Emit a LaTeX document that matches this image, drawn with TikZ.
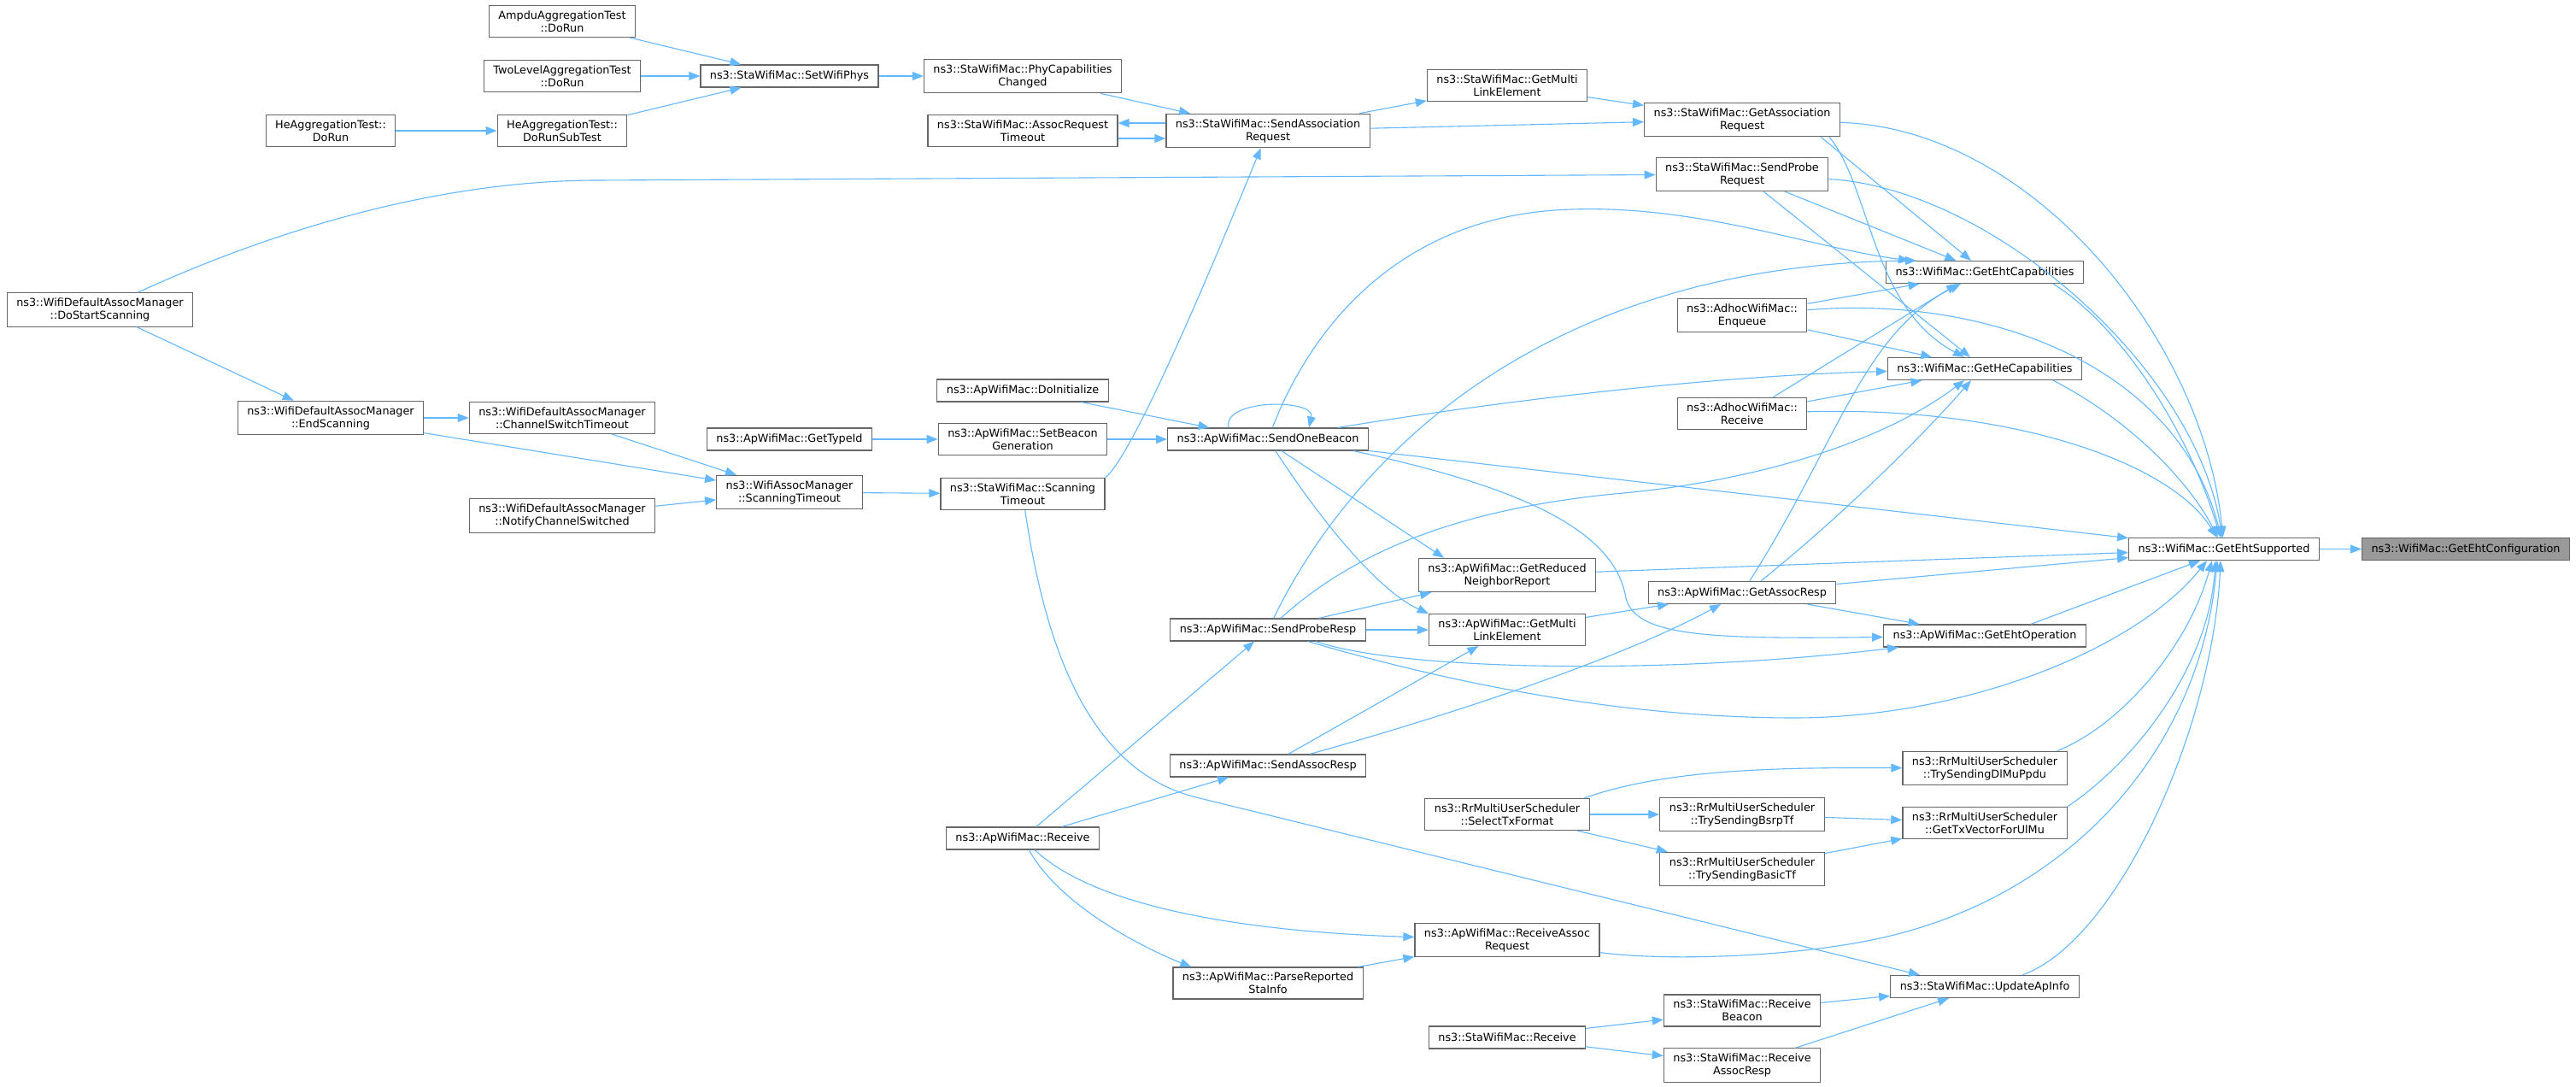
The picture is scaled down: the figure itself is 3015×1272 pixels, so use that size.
\documentclass[tikz,border=0pt]{standalone}
\usepackage{fontspec}
\setmainfont{DejaVu Sans}
\usetikzlibrary{arrows.meta}
\definecolor{edgeblue}{HTML}{63B8FF}
\definecolor{boxline}{HTML}{666666}
\definecolor{hifill}{HTML}{999999}
\tikzset{
  fn/.style={draw=boxline, fill=white, line width=0.6pt, font=\fontsize{6.4}{7.5}\selectfont,
    align=center, inner xsep=5.5pt, inner ysep=3pt, minimum height=13pt},
  fnhi/.style={fn, fill=hifill},
  call/.style={draw=edgeblue, line width=0.55pt, -{Triangle[length=6.5pt,width=5pt]}},
}
\begin{document}
\begin{tikzpicture}[x=0.5pt, y=-0.5pt]
        \path[use as bounding box, fill=white] (0,0) rectangle (3015,1272);

        % Test callers
        \node[fn] (ampdu) at (658,25) {AmpduAggregationTest\\::DoRun};
        \node[fn] (twolevel) at (658,89) {TwoLevelAggregationTest\\::DoRun};
        \node[fn] (hedorun) at (387,153) {HeAggregationTest::\\DoRun};
        \node[fn] (hesubtest) at (658,153) {HeAggregationTest::\\DoRunSubTest};

        % Station association
        \node[fn] (setphys) at (924,89) {ns3::StaWifiMac::SetWifiPhys};
        \node[fn] (phycap) at (1197,89) {ns3::StaWifiMac::PhyCapabilities\\Changed};
        \node[fn] (reqtimeout) at (1197,153) {ns3::StaWifiMac::AssocRequest\\Timeout};
        \node[fn] (sendassocreq) at (1484,153) {ns3::StaWifiMac::SendAssociation\\Request};
        \node[fn] (stamle) at (1764,100) {ns3::StaWifiMac::GetMulti\\LinkElement};
        \node[fn] (getassocreq) at (2039,140) {ns3::StaWifiMac::GetAssociation\\Request};
        \node[fn] (sendprobereq) at (2039,204) {ns3::StaWifiMac::SendProbe\\Request};

        % Scanning
        \node[fn] (startscan) at (117,362.5) {ns3::WifiDefaultAssocManager\\::DoStartScanning};
        \node[fn] (endscan) at (387,489) {ns3::WifiDefaultAssocManager\\::EndScanning};
        \node[fn] (chswitch) at (658,489) {ns3::WifiDefaultAssocManager\\::ChannelSwitchTimeout};
        \node[fn] (notifysw) at (658,603.5) {ns3::WifiDefaultAssocManager\\::NotifyChannelSwitched};
        \node[fn] (scantimeout) at (924,576) {ns3::WifiAssocManager\\::ScanningTimeout};
        \node[fn] (stascan) at (1197,578) {ns3::StaWifiMac::Scanning\\Timeout};

        % Access point
        \node[fn] (typeid) at (924,514) {ns3::ApWifiMac::GetTypeId};
        \node[fn] (doinit) at (1197,457) {ns3::ApWifiMac::DoInitialize};
        \node[fn] (beacongen) at (1197,514) {ns3::ApWifiMac::SetBeacon\\Generation};
        \node[fn] (onebeacon) at (1484,514) {ns3::ApWifiMac::SendOneBeacon};
        \node[fn] (proberesp) at (1484,737) {ns3::ApWifiMac::SendProbeResp};
        \node[fn] (sendassocresp) at (1484,896) {ns3::ApWifiMac::SendAssocResp};
        \node[fn] (aprx) at (1197,981) {ns3::ApWifiMac::Receive};
        \node[fn] (parsesta) at (1484,1150.5) {ns3::ApWifiMac::ParseReported\\StaInfo};
        \node[fn] (rnr) at (1764,673) {ns3::ApWifiMac::GetReduced\\NeighborReport};
        \node[fn] (apmle) at (1764,737) {ns3::ApWifiMac::GetMulti\\LinkElement};
        \node[fn] (rxassocreq) at (1764,1100) {ns3::ApWifiMac::ReceiveAssoc\\Request};
        \node[fn] (assocresp) at (2039,693.5) {ns3::ApWifiMac::GetAssocResp};
        \node[fn] (ehtop) at (2323,744) {ns3::ApWifiMac::GetEhtOperation};

        % Adhoc
        \node[fn] (enqueue) at (2039,369) {ns3::AdhocWifiMac::\\Enqueue};
        \node[fn] (adhocrx) at (2039,484) {ns3::AdhocWifiMac::\\Receive};

        % Capabilities
        \node[fn] (ehtcap) at (2323,318.5) {ns3::WifiMac::GetEhtCapabilities};
        \node[fn] (hecap) at (2323,431.5) {ns3::WifiMac::GetHeCapabilities};

        % Schedulers
        \node[fn] (selecttx) at (1764,953) {ns3::RrMultiUserScheduler\\::SelectTxFormat};
        \node[fn] (bsrp) at (2039,953) {ns3::RrMultiUserScheduler\\::TrySendingBsrpTf};
        \node[fn] (basictf) at (2039,1017) {ns3::RrMultiUserScheduler\\::TrySendingBasicTf};
        \node[fn] (dlmu) at (2323,899) {ns3::RrMultiUserScheduler\\::TrySendingDlMuPpdu};
        \node[fn] (ulmu) at (2323,963) {ns3::RrMultiUserScheduler\\::GetTxVectorForUlMu};

        % Station receive
        \node[fn] (starx) at (1764,1214) {ns3::StaWifiMac::Receive};
        \node[fn] (rxbeacon) at (2039,1182.5) {ns3::StaWifiMac::Receive\\Beacon};
        \node[fn] (rxassocresp) at (2039,1246.5) {ns3::StaWifiMac::Receive\\AssocResp};
        \node[fn] (updateap) at (2323,1154.5) {ns3::StaWifiMac::UpdateApInfo};

        % Target
        \node[fn] (ehtsup) at (2603,642.5) {ns3::WifiMac::GetEhtSupported};
        \node[fnhi] (ehtconf) at (2886,642.5) {ns3::WifiMac::GetEhtConfiguration};

        % Test callers
        \draw[call] (ampdu) -- (setphys);
        \draw[call] (twolevel) -- (setphys);
        \draw[call] (hesubtest) -- (setphys);
        \draw[call] (hedorun) -- (hesubtest);

        % Station association
        \draw[call] (setphys) -- (phycap);
        \draw[call] (phycap) -- (sendassocreq);
        \draw[call] ([yshift=4.5pt]sendassocreq.west) -- ([yshift=4.5pt]reqtimeout.east);
        \draw[call] ([yshift=-4.5pt]reqtimeout.east) -- ([yshift=-4.5pt]sendassocreq.west);
        \draw[call] (sendassocreq) -- (stamle);
        \draw[call] (sendassocreq) -- (getassocreq);
        \draw[call] (stamle) -- (getassocreq);
        \draw[call] (stascan.north east) .. controls (1330,530) and (1440,260) .. (sendassocreq);

        % Scanning
        \draw[call] (startscan) .. controls (330,265) and (520,211) .. (700,211) -- (sendprobereq);
        \draw[call] (startscan) -- (endscan);
        \draw[call] (endscan) -- (chswitch);
        \draw[call] (endscan) -- (scantimeout);
        \draw[call] (chswitch) -- (scantimeout);
        \draw[call] (notifysw) -- (scantimeout);
        \draw[call] (scantimeout) -- (stascan);
        \draw[call] (stascan) .. controls (1225,770) and (1280,903) .. (1400,933) -- ([xshift=-38pt]updateap.north);

        % Beacons
        \draw[call] (typeid) -- (beacongen);
        \draw[call] (doinit) -- (onebeacon);
        \draw[call] (beacongen) -- (onebeacon);
        \draw[call] ([xshift=-23pt]onebeacon.north) .. controls +(-8,-34) and +(8,-34) .. ([xshift=24pt]onebeacon.north);
        \draw[call] (onebeacon) .. controls (1540,370) and (1650,250) .. (1840,245)
                    .. controls (1990,240) and (2120,290) .. ([xshift=14pt]ehtcap.north west);
        \draw[call] (onebeacon) .. controls (1750,470) and (2000,440) .. (hecap);
        \draw[call] (onebeacon) -- (ehtsup);
        \draw[call] ([xshift=8pt]onebeacon.south) -- ([xshift=-37pt]rnr.north);
        \draw[call] (onebeacon) .. controls (1540,600) and (1610,690) .. (apmle.north west);
        \draw[call] ([xshift=50pt]onebeacon.south) .. controls (1780,570) and (1890,620) .. (1903,700)
                    .. controls (1915,745) and (2000,748) .. (ehtop);

        % Receive and responses
        \draw[call] (aprx) -- (proberesp);
        \draw[call] (aprx) -- (sendassocresp);
        \draw[call] (aprx) .. controls (1280,1060) and (1450,1090) .. (rxassocreq);
        \draw[call] (aprx) .. controls (1240,1060) and (1340,1110) .. ([xshift=11pt]parsesta.north west);
        \draw[call] (parsesta) -- (rxassocreq);
        \draw[call] (proberesp) -- (rnr);
        \draw[call] (proberesp) -- (apmle);
        \draw[call] (proberesp) .. controls (1590,520) and (1820,310) .. ([xshift=18pt]ehtcap.north west);
        \draw[call] (proberesp) .. controls (1580,650) and (1700,595) .. (1900,577)
                    .. controls (2050,563) and (2200,520) .. ([xshift=-12pt]hecap.south);
        \draw[call] ([xshift=28pt]proberesp.south) .. controls (1640,785) and (1950,790) .. ([xshift=9pt]ehtop.south west);
        \draw[call] (proberesp) .. controls (1700,800) and (1900,840) .. (2100,840)
                    .. controls (2300,840) and (2500,760) .. ([xshift=-10pt]ehtsup.south);
        \draw[call] (sendassocresp) -- (apmle);
        \draw[call] (sendassocresp) .. controls (1650,850) and (1880,780) .. (assocresp);
        \draw[call] (apmle) -- (assocresp);
        \draw[call] (rnr) -- (ehtsup);

        % GetAssocResp
        \draw[call] (assocresp) -- (ehtop);
        \draw[call] (assocresp) -- (ehtsup);
        \draw[call] (assocresp) .. controls (2150,520) and (2180,390) .. ([xshift=-14pt]ehtcap.south);
        \draw[call] ([xshift=11pt]assocresp.north) .. controls (2160,600) and (2250,510) .. ([xshift=-8pt]hecap.south);

        % Capabilities
        \draw[call] ([xshift=46pt]getassocreq.south) -- ([xshift=-8pt]ehtcap.north);
        \draw[call] ([xshift=51pt]getassocreq.south) .. controls (2190,220) and (2190,360) .. ([xshift=-12pt]hecap.north);
        \draw[call] (getassocreq) .. controls (2380,150) and (2580,400) .. (ehtsup);
        \draw[call] (sendprobereq) -- (ehtcap);
        \draw[call] (sendprobereq) -- (hecap);
        \draw[call] (sendprobereq) .. controls (2330,220) and (2570,430) .. (ehtsup);
        \draw[call] (enqueue) -- (ehtcap);
        \draw[call] (enqueue) -- (hecap);
        \draw[call] (enqueue) .. controls (2330,345) and (2550,430) .. (ehtsup);
        \draw[call] ([xshift=18pt]adhocrx.north) -- ([xshift=-16pt]ehtcap.south);
        \draw[call] (adhocrx) -- (hecap);
        \draw[call] (adhocrx) .. controls (2350,475) and (2540,540) .. (ehtsup);
        \draw[call] ([xshift=40pt]ehtcap.south) .. controls (2480,380) and (2560,500) .. (ehtsup);
        \draw[call] ([xshift=40pt]hecap.south) .. controls (2490,490) and (2560,560) .. (ehtsup);
        \draw[call] ([xshift=27pt]ehtop.north) -- ([xshift=-14pt]ehtsup.south);

        % Schedulers
        \draw[call] ([xshift=45pt]selecttx.north) .. controls (1950,900) and (2080,898) .. (dlmu);
        \draw[call] (selecttx) -- (bsrp);
        \draw[call] (selecttx) -- (basictf);
        \draw[call] (bsrp) -- (ulmu);
        \draw[call] (basictf) -- (ulmu);
        \draw[call] ([xshift=-6pt]dlmu.north east) .. controls (2480,850) and (2560,760) .. ([xshift=-7pt]ehtsup.south);
        \draw[call] (ulmu.north east) .. controls (2500,890) and (2585,780) .. ([xshift=-5pt]ehtsup.south);

        % Association request and station receive
        \draw[call] (rxassocreq) .. controls (1950,1125) and (2100,1120) .. (2200,1098)
                    .. controls (2420,1050) and (2575,880) .. ([xshift=-4pt]ehtsup.south);
        \draw[call] (starx) -- (rxbeacon);
        \draw[call] (starx) -- (rxassocresp);
        \draw[call] (rxbeacon) -- (updateap);
        \draw[call] (rxassocresp) -- (updateap);
        \draw[call] ([xshift=22pt]updateap.north) .. controls (2480,1100) and (2590,850) .. ([xshift=-2pt]ehtsup.south);

        % Target
        \draw[call] (ehtsup) -- (ehtconf);
    \end{tikzpicture}
\end{document}
